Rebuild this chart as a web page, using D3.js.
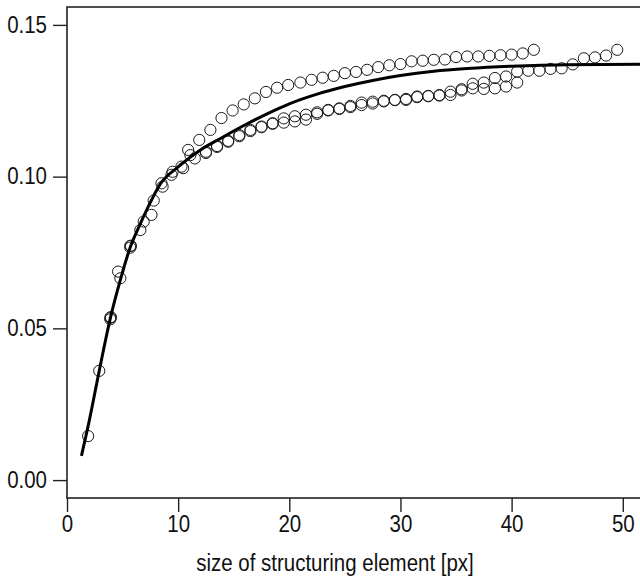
<!DOCTYPE html>
<html>
<head>
<meta charset="utf-8">
<script src="https://cdn.jsdelivr.net/npm/d3@7"></script>
<style>
    body { margin: 0; background: #fff; }
    #chart-area { width: 640px; height: 580px; }
    .tick text, .axis-title { font-family: "Liberation Sans", Arial, sans-serif; fill: #111; }
</style>
</head>
<body>
<div id="chart-area"></div>
<script>

// fitted curve
const curveX = [1.3, 2, 2.9, 3.9, 4.8, 5.7, 6.6, 7.5, 8.4, 10, 12, 14, 16, 18, 20, 22.5, 25, 27.5, 30, 33, 36, 40, 45, 52];
const curveY = [0.008, 0.0195, 0.036, 0.0534, 0.066, 0.0768, 0.0845, 0.0915, 0.0976, 0.1032, 0.1088, 0.1130, 0.1170, 0.1207,
    0.1240, 0.1272, 0.1297, 0.1317, 0.1333, 0.1347, 0.1356, 0.1364, 0.1369, 0.1370];

// upper run of circles
const upperX = [1.9, 2.9, 3.9, 4.6, 5.7, 6.9, 7.8, 8.5, 9.5,
    10.9, 11.9, 12.9, 13.9, 14.9, 15.9, 16.9, 17.9, 18.9, 19.9,
    21, 22, 23, 24, 25, 26, 27, 28, 29, 30, 31, 32, 33, 34, 35, 36, 37, 38, 39, 40, 41, 42];
const upperY = [0.0145, 0.0360, 0.0535, 0.0687, 0.0772, 0.0852, 0.0921, 0.0978, 0.1016,
    0.1088, 0.1121, 0.1154, 0.1193, 0.1218, 0.1238, 0.1258, 0.1279, 0.1293, 0.1302,
    0.1310, 0.1319, 0.1326, 0.1332, 0.1341, 0.1345, 0.1352, 0.1361, 0.1367, 0.1371, 0.1380, 0.1382, 0.1385, 0.1386,
    0.1394, 0.1396, 0.1396, 0.1398, 0.1400, 0.1402, 0.1406, 0.1418];

// lower run that carries on to ~50
const lowerX = [3.9, 4.8, 5.7, 6.6, 7.6, 8.6, 9.4, 10.3, 11.1,
    12.5, 13.5, 14.5, 15.5, 16.5, 17.5, 18.5, 19.5, 20.5, 21.5, 22.5, 23.5, 24.5, 25.5, 26.5, 27.5, 28.5, 29.5,
    30.5, 31.5, 32.5, 33.5, 34.5, 35.5, 36.5, 37.5, 38.5, 39.5, 40.5,
    41.5, 42.5, 43.5, 44.5, 45.5, 46.5, 47.5, 48.5, 49.5];
const lowerY = [0.0530, 0.0665, 0.0766, 0.0824, 0.0874, 0.0967, 0.1006, 0.1033, 0.1071,
    0.1082, 0.1101, 0.1118, 0.1137, 0.1154, 0.1165, 0.1176, 0.1192, 0.1199, 0.1204, 0.1212, 0.1220, 0.1225, 0.1233,
    0.1244, 0.1247, 0.1250, 0.1253, 0.1256, 0.1264, 0.1266, 0.1269, 0.1280, 0.1288, 0.1306, 0.1310, 0.1325, 0.1330, 0.1346,
    0.1349, 0.1349, 0.1355, 0.1357, 0.1370, 0.1390, 0.1393, 0.1399, 0.1418];

// lower run that stops at ~40
const thirdX = [3.95, 5.75, 10.45, 11.5,
    12.5, 13.5, 14.5, 15.5, 16.5, 17.5, 18.5, 19.5, 20.5, 21.5, 22.5, 23.5, 24.5, 25.5, 26.5, 27.5, 28.5, 29.5,
    30.5, 31.5, 32.5, 33.5, 34.5, 35.5, 36.5, 37.5, 38.5, 39.5, 40.5];
const thirdY = [0.0537, 0.0772, 0.1028, 0.1060,
    0.1078, 0.1098, 0.1115, 0.1133, 0.1150, 0.1163, 0.1174, 0.1178, 0.1182, 0.1188, 0.1207, 0.1218, 0.1223, 0.1229,
    0.1236, 0.1241, 0.1248, 0.1252, 0.1253, 0.1262, 0.1265, 0.1267, 0.1269, 0.1284, 0.1291, 0.1289, 0.1291, 0.1297, 0.1310];

const xTicks = [0, 10, 20, 30, 40, 50];
const yTicks = [0, 0.05, 0.10, 0.15];
const xLabel = "size of structuring element [px]";

// the original lettering is a bit narrower than Liberation Sans
const squeeze = 0.89;

class FitScatterVis {

    constructor(parentElement) {
        this.parentElement = parentElement;
        this.initVis();
    }

    initVis() {
        let vis = this;

        vis.margin = {top: 7, right: -5, bottom: 82, left: 67};
        vis.width = 640 - vis.margin.left - vis.margin.right;
        vis.height = 580 - vis.margin.top - vis.margin.bottom;

        vis.svg = d3.select("#" + vis.parentElement).append("svg")
            .attr("width", 640)
            .attr("height", 580)
            .append("g")
            .attr("transform", `translate(${vis.margin.left}, ${vis.margin.top})`);

        vis.xScale = d3.scaleLinear()
            .domain([0, 52])
            .range([0, vis.width]);
        vis.yScale = d3.scaleLinear()
            .domain([-0.0059, 0.1559])
            .range([vis.height, 0]);

        vis.updateVis();
    }

    updateVis() {
        this.createAxis();
        this.createPoints();
        this.createLine();
    }

    createAxis() {
        let vis = this;

        // plot frame (right side runs off the page)
        vis.svg.append("rect")
            .attr("x", 0)
            .attr("y", 0)
            .attr("width", vis.width)
            .attr("height", vis.height)
            .attr("fill", "none")
            .attr("stroke", "#222")
            .attr("stroke-width", 1.6);

        let xAxis = d3.axisBottom(vis.xScale)
            .tickValues(xTicks)
            .tickSize(14)
            .tickPadding(4)
            .tickFormat(d3.format("d"));
        let yAxis = d3.axisLeft(vis.yScale)
            .tickValues(yTicks)
            .tickSize(14)
            .tickPadding(6)
            .tickFormat(d3.format(".2f"));

        vis.svg.append("g")
            .attr("class", "x-axis")
            .attr("transform", `translate(0,${vis.height})`)
            .call(xAxis);
        vis.svg.append("g")
            .attr("class", "y-axis")
            .call(yAxis);

        vis.svg.selectAll(".domain").remove();
        vis.svg.selectAll(".tick line").attr("stroke", "#222").attr("stroke-width", 1.4);
        vis.svg.selectAll(".tick text")
            .style("font-size", "23px")
            .attr("transform", `scale(${squeeze},1)`);
        // undo the squeeze on the label offset of the y ticks
        vis.svg.selectAll(".y-axis .tick text").attr("x", -20 / squeeze);

        vis.svg.append("g")
            .attr("transform", `translate(${335 - vis.margin.left},${571 - vis.margin.top}) scale(${squeeze},1)`)
            .append("text")
            .attr("class", "axis-title")
            .attr("text-anchor", "middle")
            .style("font-size", "23px")
            .text(xLabel);
    }

    createPoints() {
        let vis = this;
        const runs = [
            upperX.map((x, i) => ({x: x, y: upperY[i]})),
            lowerX.map((x, i) => ({x: x, y: lowerY[i]})),
            thirdX.map((x, i) => ({x: x, y: thirdY[i]}))
        ];

        vis.svg.selectAll(".run")
            .data(runs)
            .enter()
            .append("g")
            .attr("class", "run")
            .selectAll("circle")
            .data(d => d)
            .enter()
            .append("circle")
            .attr("cx", d => vis.xScale(d.x))
            .attr("cy", d => vis.yScale(d.y))
            .attr("r", 5.6)
            .attr("fill", "none")
            .attr("stroke", "#1a1a1a")
            .attr("stroke-width", 1);
    }

    createLine() {
        let vis = this;
        const pts = curveX.map((x, i) => ({x: x, y: curveY[i]}));

        const line = d3.line()
            .x(d => vis.xScale(d.x))
            .y(d => vis.yScale(d.y))
            .curve(d3.curveMonotoneX);

        vis.svg.append("path")
            .datum(pts)
            .attr("class", "line")
            .attr("fill", "none")
            .attr("stroke", "#000")
            .attr("stroke-width", 3)
            .attr("d", line);
    }
}

new FitScatterVis("chart-area");
</script>
</body>
</html>
